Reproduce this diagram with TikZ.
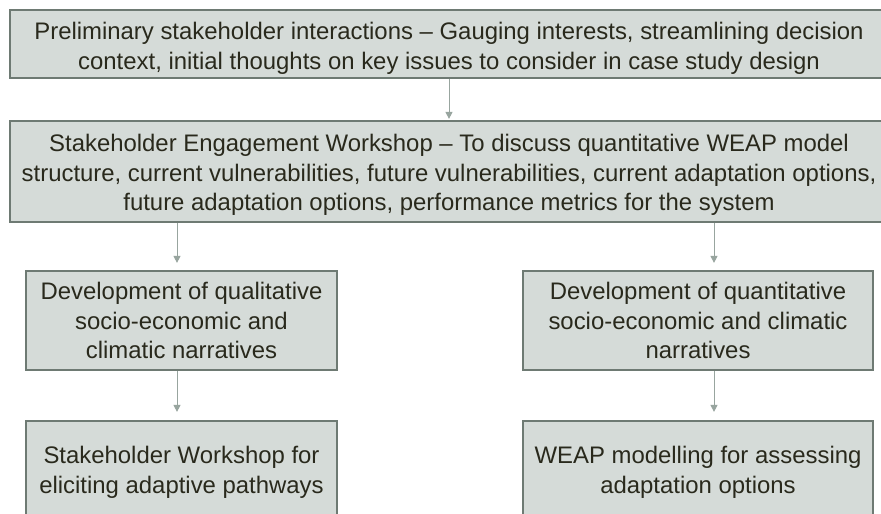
\documentclass[tikz,border=0pt]{standalone}
\usepackage{fontspec}
\setmainfont{Liberation Sans}
\usetikzlibrary{arrows.meta}
\definecolor{boxfill}{HTML}{D5DBD8}
\definecolor{boxline}{HTML}{6E7A73}
\definecolor{arrcol}{HTML}{98A59F}
\definecolor{txtcol}{HTML}{29291C}
\tikzset{
  box/.style={draw=boxline, fill=boxfill, line width=2.2bp, align=center, inner sep=0pt,
    text=txtcol, font=\fontsize{24}{29.5}\selectfont},
  arr/.style={draw=arrcol, line width=1bp, -{Triangle[width=7bp,length=7bp]}}
}
\begin{document}
\begin{tikzpicture}[x=1bp,y=-1bp]
\useasboundingbox (0,0) rectangle (881,514);
\clip (0,0) rectangle (881,514);
\fill[white] (0,0) rectangle (881,514);
\node[box, minimum width=878bp, minimum height=68bp] (pre) at (449,44)
  {\rule{0pt}{26bp}Preliminary stakeholder interactions -- Gauging interests, streamlining decision\\
   context, initial thoughts on key issues to consider in case study design};
\node[box, minimum width=878bp, minimum height=101bp] (ws) at (449,171.5)
  {\rule{0pt}{24bp}Stakeholder Engagement Workshop -- To discuss quantitative WEAP model\\
   structure, current vulnerabilities, future vulnerabilities, current adaptation options,\\
   future adaptation options, performance metrics for the system};
\node[box, minimum width=311bp, minimum height=99bp] (ql) at (181.5,320.5)
  {Development of qualitative\\socio-economic and\\climatic narratives};
\node[box, minimum width=350bp, minimum height=99bp] (qn) at (698,320.5)
  {Development of quantitative\\socio-economic and climatic\\narratives};
\node[box, minimum width=311bp, minimum height=100bp] (sw) at (181.5,471)
  {\rule{0pt}{20bp}Stakeholder Workshop for\\eliciting adaptive pathways};
\node[box, minimum width=350bp, minimum height=100bp] (wm) at (698,471)
  {\rule{0pt}{20bp}WEAP modelling for assessing\\adaptation options};
\draw[arr] (pre.south) -- ([yshift=1bp]ws.north);
\draw[arr] ([xshift=-4.5bp]ws.south -| ql.north) -- ([xshift=-4.5bp,yshift=7bp]ql.north);
\draw[arr] ([xshift=16bp]ws.south -| qn.north) -- ([xshift=16bp,yshift=7bp]qn.north);
\draw[arr] ([xshift=-4.5bp]ql.south) -- ([xshift=-4.5bp,yshift=8bp]sw.north);
\draw[arr] ([xshift=16bp]qn.south) -- ([xshift=16bp,yshift=8bp]wm.north);
\end{tikzpicture}
\end{document}
